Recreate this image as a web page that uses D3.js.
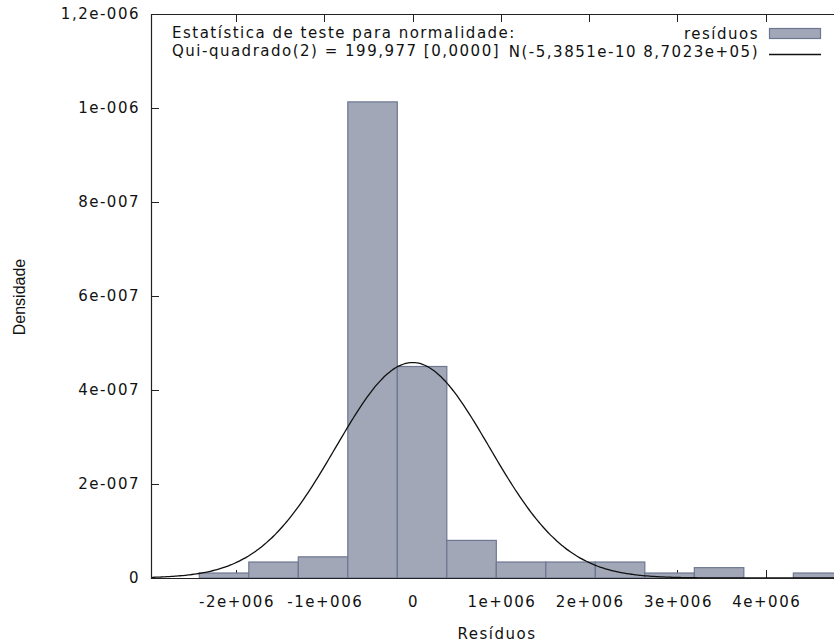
<!DOCTYPE html>
<html>
<head>
<meta charset="utf-8">
<script src="https://cdn.jsdelivr.net/npm/d3@7"></script>
<style>
  body { margin: 0; background: #fff; }
  text { font-family: "DejaVu Sans", Verdana, sans-serif; font-size: 15px; letter-spacing: 1.5px; fill: #111; }
</style>
</head>
<body>
<svg id="chart" width="834" height="644"></svg>
<script>
// histogram bins (left edge of each bin, common width) and densities
const binLeft = [-2.416e6, -1.8553e6, -1.2946e6, -0.7339e6, -0.1732e6, 0.3875e6, 0.9482e6,
                 1.5089e6, 2.0696e6, 2.6303e6, 3.191e6, 3.7517e6, 4.3124e6];
const binWidth = 0.5607e6;
const density = [1.06e-8, 3.4e-8, 4.5e-8, 1.013e-6, 4.5e-7, 8.0e-8, 3.4e-8,
                 3.4e-8, 3.4e-8, 1.06e-8, 2.2e-8, 0, 1.06e-8];

// fitted normal from the legend
const normMean = -5.3851e-10;
const normSd = 8.7023e5;

const xTicks = [-2e6, -1e6, 0, 1e6, 2e6, 3e6, 4e6];
const xTickLabels = ["-2e+006", "-1e+006", "0", "1e+006", "2e+006", "3e+006", "4e+006"];
const yTicks = [0, 2e-7, 4e-7, 6e-7, 8e-7, 1e-6, 1.2e-6];
const yTickLabels = ["0", "2e-007", "4e-007", "6e-007", "8e-007", "1e-006", "1,2e-006"];

const plotLeft = 151, plotRight = 834, plotTop = 14, plotBottom = 578;

const svg = d3.select("#chart");

const x = d3.scaleLinear().domain([-2.963e6, 4.773e6]).range([plotLeft, plotRight]);
const y = d3.scaleLinear().domain([0, 1.2e-6]).range([plotBottom, plotTop]);

const barFill = "#a1a7b7";
const barStroke = "#6d7791";

svg.append("clipPath").attr("id", "plot")
  .append("rect").attr("x", plotLeft).attr("y", plotTop)
  .attr("width", plotRight - plotLeft).attr("height", plotBottom - plotTop);

// ticks (inward, bottom/top/left) drawn under the bars
const tickLen = 8;
const ticks = svg.append("g").attr("stroke", "#222").attr("stroke-width", 1);
xTicks.forEach(v => {
  const px = Math.round(x(v)) + 0.5;
  ticks.append("line").attr("x1", px).attr("x2", px).attr("y1", plotBottom).attr("y2", plotBottom - tickLen);
  ticks.append("line").attr("x1", px).attr("x2", px).attr("y1", plotTop).attr("y2", plotTop + tickLen);
});
yTicks.forEach(v => {
  const py = Math.round(y(v)) + 0.5;
  ticks.append("line").attr("x1", plotLeft).attr("x2", plotLeft + tickLen).attr("y1", py).attr("y2", py);
});

// bars
svg.append("g").attr("clip-path", "url(#plot)")
  .selectAll("rect")
  .data(density)
  .join("rect")
    .attr("x", (d, i) => x(binLeft[i]))
    .attr("width", (d, i) => x(binLeft[i] + binWidth) - x(binLeft[i]))
    .attr("y", d => y(d))
    .attr("height", d => y(0) - y(d))
    .attr("fill", barFill)
    .attr("stroke", barStroke)
    .attr("stroke-width", 1.2)
    .style("display", d => d > 0 ? null : "none");

// normal density curve
const curvePts = d3.range(0, 301).map(i => {
  const v = x.domain()[0] + (x.domain()[1] - x.domain()[0]) * i / 300;
  const z = (v - normMean) / normSd;
  return [v, Math.exp(-0.5 * z * z) / (normSd * Math.sqrt(2 * Math.PI))];
});
svg.append("path")
  .attr("clip-path", "url(#plot)")
  .attr("d", d3.line().x(d => x(d[0])).y(d => y(d[1])).curve(d3.curveBasis)(curvePts))
  .attr("fill", "none")
  .attr("stroke", "#111")
  .attr("stroke-width", 1.3);

// frame
svg.append("path")
  .attr("d", `M${plotRight},${plotTop + 0.5}H${plotLeft + 0.5}V${plotBottom + 0.5}H${plotRight}`)
  .attr("fill", "none")
  .attr("stroke", "#222")
  .attr("stroke-width", 1.2);

// tick labels
svg.append("g").selectAll("text")
  .data(yTicks)
  .join("text")
    .attr("x", 140)
    .attr("y", d => y(d))
    .attr("dy", "0.36em")
    .attr("text-anchor", "end")
    .text((d, i) => yTickLabels[i]);

svg.append("g").selectAll("text")
  .data(xTicks)
  .join("text")
    .attr("x", d => x(d) + 1)
    .attr("y", 607)
    .attr("text-anchor", "middle")
    .text((d, i) => xTickLabels[i]);

// axis titles
svg.append("text")
  .attr("x", 497).attr("y", 639)
  .attr("text-anchor", "middle")
  .text("Resíduos");

svg.append("text")
  .attr("transform", "translate(25,297) rotate(-90)")
  .attr("text-anchor", "middle")
  .style("font-family", "'Liberation Sans', Arial, sans-serif")
  .style("font-size", "16px")
  .style("letter-spacing", "0px")
  .text("Densidade");

// test statistic
svg.append("text").attr("x", 172).attr("y", 38).text("Estatística de teste para normalidade:");
svg.append("text").attr("x", 172).attr("y", 56).text("Qui-quadrado(2) = 199,977 [0,0000]");

// legend
svg.append("text").attr("x", 759).attr("y", 39).attr("text-anchor", "end").text("resíduos");
svg.append("rect")
  .attr("x", 769.5).attr("y", 28.5).attr("width", 51).attr("height", 10)
  .attr("fill", barFill).attr("stroke", barStroke).attr("stroke-width", 1.2);
svg.append("text").attr("x", 759).attr("y", 57).attr("text-anchor", "end").text("N(-5,3851e-10 8,7023e+05)");
svg.append("line")
  .attr("x1", 769).attr("x2", 821).attr("y1", 54.5).attr("y2", 54.5)
  .attr("stroke", "#111").attr("stroke-width", 1.3);
</script>
</body>
</html>
